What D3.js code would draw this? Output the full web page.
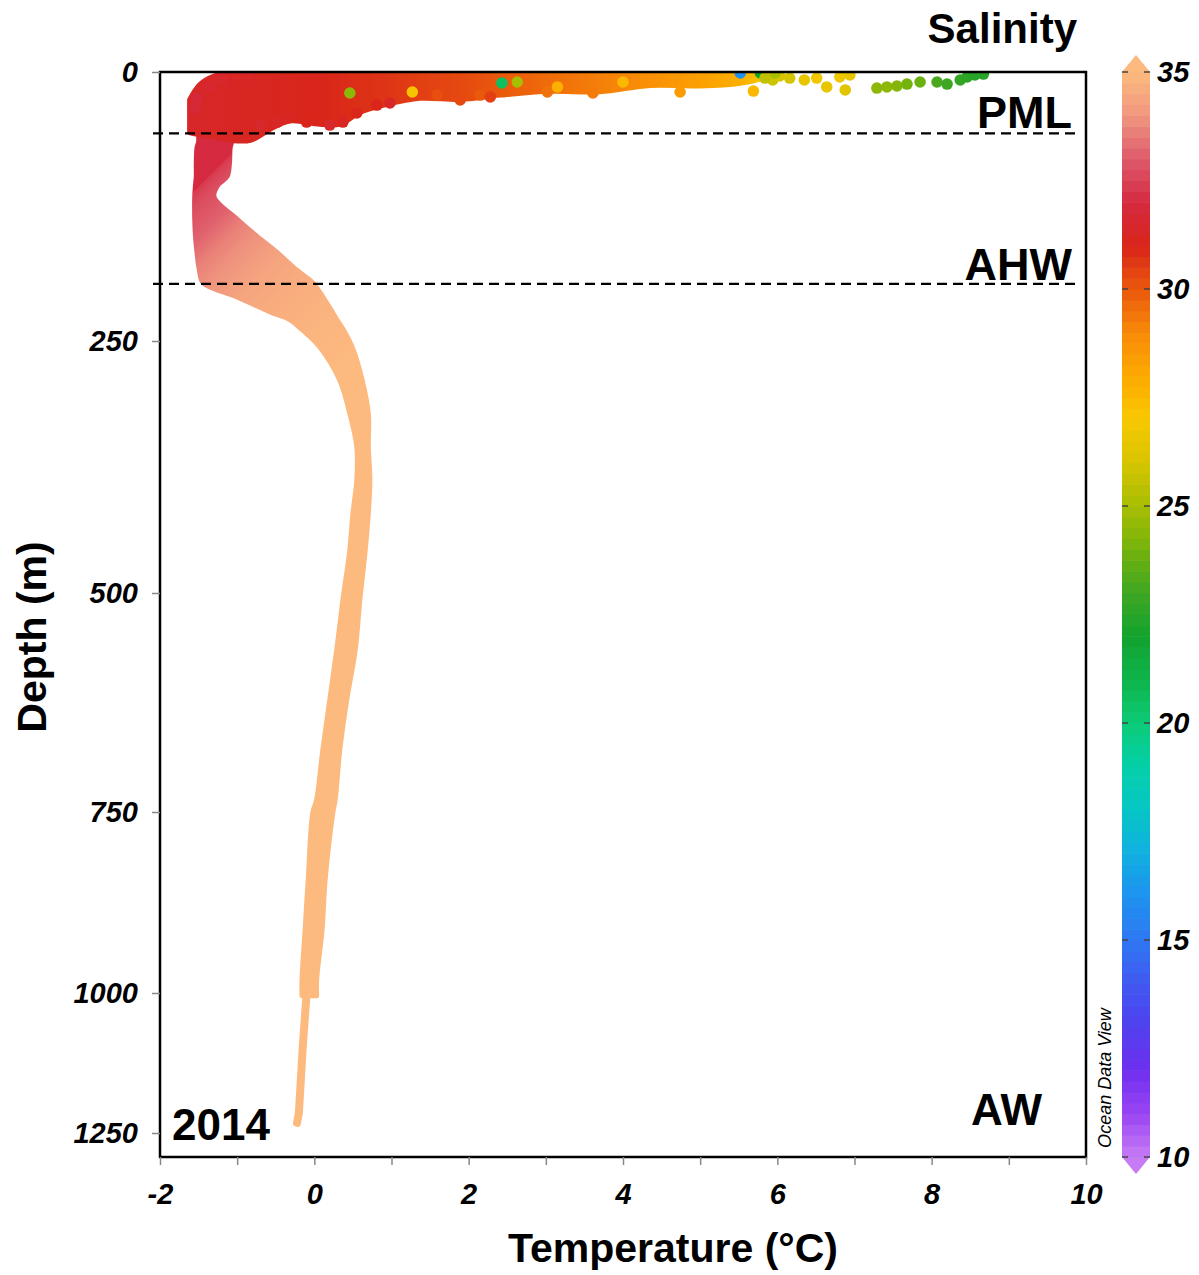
<!DOCTYPE html>
<html>
<head>
<meta charset="utf-8">
<script src="https://cdn.jsdelivr.net/npm/d3@7"></script>
<style>
  body { margin: 0; background: #fff; }
  text { font-family: "Liberation Sans", Arial, sans-serif; }
</style>
</head>
<body>
<div id="chart"></div>
<script>
// ---- data ----
// salinity colour map (Ocean Data View style)
const salStops = [10, 11, 12, 13, 14, 15, 16, 17, 18, 19, 20, 21, 22, 23, 24, 25, 26, 27, 28, 29, 30, 31, 32, 33, 34, 35];
const salColors = ['#C77CF5', '#9A45F2', '#6E2FF0', '#5040EE', '#4058F0', '#2F78F2', '#1E92F0', '#10B0E0', '#06C6C6',
  '#04CFA8', '#0CCB78', '#0EB44A', '#12A22E', '#3EA622', '#74B20C', '#A8BE02', '#D6C400', '#F8C800', '#FCAA00',
  '#F88A08', '#EA580C', '#D9251A', '#D52A40', '#DE5A6C', '#F0977F', '#FDBA7E'];

// dense surface cloud (0 - 60 m)
const cloudTemp = [-1.61, -1.48, -1.29, -1.09, -0.83, -0.58, -0.32, 0.07, 0.33, 0.59, 0.92, 1.37, 1.89, 2.41, 3.05, 3.70, 4.35, 5.00, 5.52, 5.78, 5.90];
const cloudTop = [26, 12, 4, 1, 0, 0, 0, 0, 0, 0, 0, 0, 0, 0, 0, 0, 0, 0, 0, 0, 0];
const cloudBottom = [56, 58, 60, 63, 63, 53, 45, 48, 48, 37, 30, 24, 25, 21, 17.5, 18, 12, 12.5, 10, 6, 2];
const cloudSal = [31.4, 31.35, 31.3, 31.25, 31.2, 31.15, 31.1, 31.0, 30.9, 30.8, 30.7, 30.5, 30.3, 30.0, 29.6, 29.2, 28.8, 28.3, 27.8, 27.2, 26.8];

// single casts around the edge of the cloud
const dotTemp = [-1.35, -1.20, -1.00, -0.87, -1.52, -1.55, -0.70, -0.48, -0.35, -0.10, 0.20, 0.37, 0.55, 0.81, 0.98,
  1.27, 1.59, 1.89, 2.15, 2.28, 2.43, 2.63, 2.76, 3.02, 3.15, 3.61, 4.00, 4.74, 5.52, 5.69, 5.78, 5.94, 6.03, 6.16,
  6.35, 6.51, 6.64, 6.81, 6.88, 6.94, 7.29, 7.42, 7.55, 7.68, 7.85, 8.07, 8.20, 8.37, 8.46, 8.56, 8.67, 5.84, 5.97, 0.46];
const dotDepth = [13.9, 7.4, 5.6, 4.6, 24.2, 33.5, 49.3, 46.5, 41.8, 46.5, 49.3, 46.5, 38.1, 30.7, 28.8,
  18.6, 21.4, 26.0, 21.4, 23.2, 10.2, 9.3, 14.9, 18.6, 13.9, 19.5, 9.3, 18.6, 0.9, 17.7, 0.9, 7.4, 3.7, 5.6,
  7.4, 5.6, 13.9, 4.6, 16.7, 2.8, 14.9, 13.9, 13.0, 11.2, 9.3, 9.3, 11.2, 7.4, 4.6, 2.8, 1.9, 5.6, 0.9, 19.5];
const dotSal = [31.6, 31.5, 31.3, 31.3, 31.8, 31.8, 31.5, 31.4, 31.2, 31.0, 31.5, 31.2, 31.0, 31.0, 31.3,
  27.2, 30.2, 30.3, 30.0, 30.5, 20.5, 25.0, 29.8, 29.5, 27.8, 29.3, 27.5, 28.5, 16.0, 27.5, 22.0, 25.8, 26.0, 26.0,
  26.5, 26.8, 26.5, 26.8, 26.3, 26.5, 24.5, 24.5, 24.3, 24.0, 23.8, 23.2, 23.0, 22.8, 22.6, 22.5, 22.5, 25.5, 25.0, 24.5];

// profile band below the mixed layer: depth, coldest and warmest temperature, salinity
const bandDepth = [57, 65, 70, 85, 97, 105, 116, 137, 153, 168, 184, 196, 209, 224, 230, 240, 256, 289, 322, 355, 388, 421, 457, 508, 565, 622, 679, 736, 751, 844, 913, 982, 1005];
const bandLeft = [-1.50, -1.50, -1.52, -1.53, -1.53, -1.54, -1.55, -1.55, -1.54, -1.52, -1.49, -1.44, -1.00, -0.54, -0.32, -0.15, 0.07, 0.33, 0.46, 0.55, 0.55, 0.50, 0.46, 0.37, 0.29, 0.20, 0.11, 0.03, -0.02, -0.08, -0.12, -0.16, -0.16];
const bandRight = [-1.05, -1.07, -1.09, -1.10, -1.13, -1.25, -1.30, -1.00, -0.74, -0.48, -0.23, -0.02, 0.11, 0.24, 0.29, 0.38, 0.49, 0.62, 0.70, 0.70, 0.72, 0.70, 0.66, 0.59, 0.53, 0.42, 0.33, 0.27, 0.24, 0.14, 0.10, 0.03, 0.03];
const bandSal = [32.0, 32.1, 32.2, 32.3, 32.4, 32.5, 32.7, 33.1, 33.6, 33.9, 34.2, 34.4, 34.6, 34.75, 34.8, 34.85, 34.9, 35, 35, 35, 35, 35, 35, 35, 35, 35, 35, 35, 35, 35, 35, 35, 35];

// deepest single cast
const deepTemp = [-0.10, -0.15, -0.20, -0.225];
const deepDepth = [1000, 1096, 1214, 1232];

// water mass boundaries and labels
const layerDepths = [57, 197];
const layerLabels = [{ name: 'PML', depth: 52 }, { name: 'AHW', depth: 193 }];

const xTicks = [-2, -1, 0, 1, 2, 3, 4, 5, 6, 7, 8, 9, 10];
const yTicks = [0, 250, 500, 750, 1000, 1250];
const salTicks = [10, 15, 20, 25, 30, 35];

// ---- layout ----
const W = 1199, H = 1275;
const pLeft = 160, pRight = 1086, pTop = 72, pBottom = 1157;

const svg = d3.select('#chart').append('svg')
  .attr('width', W).attr('height', H)
  .style('background', '#fff');

const x = d3.scaleLinear().domain([-2, 10]).range([pLeft, pRight]);
// ODV stretched depth axis
const y = d3.scaleLinear()
  .domain([0, 250, 500, 750, 1000, 1250, 1293])
  .range([pTop, 341, 593, 812, 993, 1133, pBottom]);

const salColor = d3.scaleLinear().domain(salStops).range(salColors).clamp(true);

const defs = svg.append('defs');
defs.append('clipPath').attr('id', 'plotClip')
  .append('rect').attr('x', pLeft).attr('y', pTop - 1).attr('width', pRight - pLeft).attr('height', pBottom - pTop + 1);

// horizontal gradient for the surface cloud
const cloudGrad = defs.append('linearGradient').attr('id', 'cloudGrad')
  .attr('gradientUnits', 'userSpaceOnUse')
  .attr('x1', x(cloudTemp[0])).attr('x2', x(cloudTemp[cloudTemp.length - 1]))
  .attr('y1', 0).attr('y2', 0);
cloudGrad.selectAll('stop').data(cloudTemp).enter().append('stop')
  .attr('offset', (d, i) => (x(d) - x(cloudTemp[0])) / (x(cloudTemp[cloudTemp.length - 1]) - x(cloudTemp[0])))
  .attr('stop-color', (d, i) => salColor(cloudSal[i]));

// band gradient runs diagonally (salinity rises with depth and temperature);
// each band row is placed on it by projecting its mid point
const gA = [x(-1.55), y(110)], gB = [x(0.5), y(260)];
const gV = [gB[0] - gA[0], gB[1] - gA[1]];
const gL2 = gV[0] * gV[0] + gV[1] * gV[1];
let lastOff = 0;
const bandStops = bandDepth.map((d, i) => {
  const px = x((bandLeft[i] + bandRight[i]) / 2), py = y(d);
  let t = ((px - gA[0]) * gV[0] + (py - gA[1]) * gV[1]) / gL2;
  t = Math.max(lastOff, Math.min(1, Math.max(0, t)));
  lastOff = t;
  return { off: t, sal: bandSal[i] };
});
const bandGrad = defs.append('linearGradient').attr('id', 'bandGrad')
  .attr('gradientUnits', 'userSpaceOnUse')
  .attr('x1', gA[0]).attr('y1', gA[1])
  .attr('x2', gB[0]).attr('y2', gB[1]);
bandGrad.selectAll('stop').data(bandStops).enter().append('stop')
  .attr('offset', d => d.off)
  .attr('stop-color', d => salColor(d.sal));

const plot = svg.append('g').attr('clip-path', 'url(#plotClip)');

// profile band
const band = bandDepth.map((d, i) => ({ d: d, l: bandLeft[i], r: bandRight[i] }));
const bandArea = d3.area()
  .curve(d3.curveCatmullRom)
  .y(p => y(p.d))
  .x0(p => x(p.l))
  .x1(p => x(p.r));
plot.append('path')
  .attr('d', bandArea(band))
  .attr('fill', 'url(#bandGrad)')
  .attr('stroke', 'url(#bandGrad)')
  .attr('stroke-width', 5)
  .attr('stroke-linejoin', 'round');

// deepest cast
const deepLine = d3.line().x((d, i) => x(deepTemp[i])).y(d => y(d));
plot.append('path')
  .attr('d', deepLine(deepDepth))
  .attr('fill', 'none')
  .attr('stroke', salColor(35))
  .attr('stroke-width', 8)
  .attr('stroke-linecap', 'round');

// surface cloud
const cloud = cloudTemp.map((t, i) => ({ t: t, a: cloudTop[i], b: cloudBottom[i] }));
const cloudArea = d3.area()
  .curve(d3.curveCatmullRom)
  .x(p => x(p.t))
  .y0(p => y(p.a))
  .y1(p => y(p.b));
plot.append('path')
  .attr('d', cloudArea(cloud))
  .attr('fill', 'url(#cloudGrad)')
  .attr('stroke', 'url(#cloudGrad)')
  .attr('stroke-width', 6)
  .attr('stroke-linejoin', 'round');

// single points
plot.selectAll('circle.pt').data(dotTemp).enter().append('circle')
  .attr('class', 'pt')
  .attr('cx', d => x(d))
  .attr('cy', (d, i) => y(dotDepth[i]))
  .attr('r', 5.8)
  .attr('fill', (d, i) => salColor(dotSal[i]));

// dashed water-mass boundaries
svg.selectAll('line.layer').data(layerDepths).enter().append('line')
  .attr('class', 'layer')
  .attr('x1', 153).attr('x2', 1077)
  .attr('y1', d => y(d)).attr('y2', d => y(d))
  .attr('stroke', '#000').attr('stroke-width', 2.2)
  .attr('stroke-dasharray', '10,6');

// frame
svg.append('rect')
  .attr('x', pLeft).attr('y', pTop)
  .attr('width', pRight - pLeft).attr('height', pBottom - pTop)
  .attr('fill', 'none').attr('stroke', '#000').attr('stroke-width', 2.5);

// axes
const xAxis = d3.axisBottom(x).tickValues(xTicks).tickSize(8).tickPadding(18)
  .tickFormat(d => (d % 2 === 0 ? d : ''));
const gx = svg.append('g').attr('transform', 'translate(0,' + pBottom + ')').call(xAxis);

const yAxis = d3.axisLeft(y).tickValues(yTicks).tickSize(8).tickPadding(14).tickFormat(d3.format('d'));
const gy = svg.append('g').attr('transform', 'translate(' + pLeft + ',0)').call(yAxis);

[gx, gy].forEach(g => {
  g.select('.domain').remove();
  g.selectAll('.tick line').attr('stroke', '#888').attr('stroke-width', 1.5);
  g.selectAll('.tick text')
    .attr('fill', '#000')
    .style('font-family', '"Liberation Sans", Arial, sans-serif')
    .style('font-size', '29px')
    .style('font-weight', 'bold')
    .style('font-style', 'italic');
});

// axis titles
svg.append('text')
  .attr('x', 673).attr('y', 1262)
  .attr('text-anchor', 'middle')
  .style('font-size', '41px').style('font-weight', 'bold')
  .text('Temperature (°C)');

svg.append('text')
  .attr('transform', 'translate(46,637) rotate(-90)')
  .attr('text-anchor', 'middle')
  .style('font-size', '41px').style('font-weight', 'bold')
  .text('Depth (m)');

// water mass labels
svg.selectAll('text.layerLabel').data(layerLabels).enter().append('text')
  .attr('class', 'layerLabel')
  .attr('x', 1072).attr('y', d => y(d.depth))
  .attr('text-anchor', 'end')
  .style('font-size', '45px').style('font-weight', 'bold')
  .text(d => d.name);

svg.append('text')
  .attr('x', 1042).attr('y', 1125)
  .attr('text-anchor', 'end')
  .style('font-size', '44px').style('font-weight', 'bold')
  .text('AW');

svg.append('text')
  .attr('x', 172).attr('y', 1140)
  .style('font-size', '44px').style('font-weight', 'bold')
  .text('2014');

// colour bar
const cb = svg.append('g');
const cbX = 1122, cbW = 28;
const cbY = d3.scaleLinear().domain([10, 35]).range([pBottom, pTop]);
const steps = d3.range(10, 35, 0.25);
cb.selectAll('rect').data(steps).enter().append('rect')
  .attr('x', cbX).attr('width', cbW)
  .attr('y', d => cbY(d + 0.25))
  .attr('height', d => cbY(d) - cbY(d + 0.25) + 0.6)
  .attr('fill', d => salColor(d + 0.125));

cb.append('path')
  .attr('d', 'M' + cbX + ',' + cbY(35) + 'L' + (cbX + cbW) + ',' + cbY(35) + 'L' + (cbX + cbW / 2) + ',' + (cbY(35) - 17) + 'Z')
  .attr('fill', salColor(35));
cb.append('path')
  .attr('d', 'M' + cbX + ',' + cbY(10) + 'L' + (cbX + cbW) + ',' + cbY(10) + 'L' + (cbX + cbW / 2) + ',' + (cbY(10) + 17) + 'Z')
  .attr('fill', salColor(10));

salTicks.forEach(s => {
  cb.append('line').attr('x1', cbX).attr('x2', cbX + 6).attr('y1', cbY(s)).attr('y2', cbY(s))
    .attr('stroke', '#444').attr('stroke-width', 1.5);
  cb.append('line').attr('x1', cbX + cbW - 6).attr('x2', cbX + cbW).attr('y1', cbY(s)).attr('y2', cbY(s))
    .attr('stroke', '#444').attr('stroke-width', 1.5);
  cb.append('text')
    .attr('x', 1157).attr('y', cbY(s)).attr('dy', '0.35em')
    .style('font-size', '29px').style('font-weight', 'bold').style('font-style', 'italic')
    .text(s);
});

svg.append('text')
  .attr('x', 1077).attr('y', 43)
  .attr('text-anchor', 'end')
  .style('font-size', '42px').style('font-weight', 'bold')
  .text('Salinity');

svg.append('text')
  .attr('transform', 'translate(1111,1078) rotate(-90)')
  .attr('text-anchor', 'middle')
  .style('font-size', '18px').style('font-style', 'italic')
  .text('Ocean Data View');
</script>
</body>
</html>
